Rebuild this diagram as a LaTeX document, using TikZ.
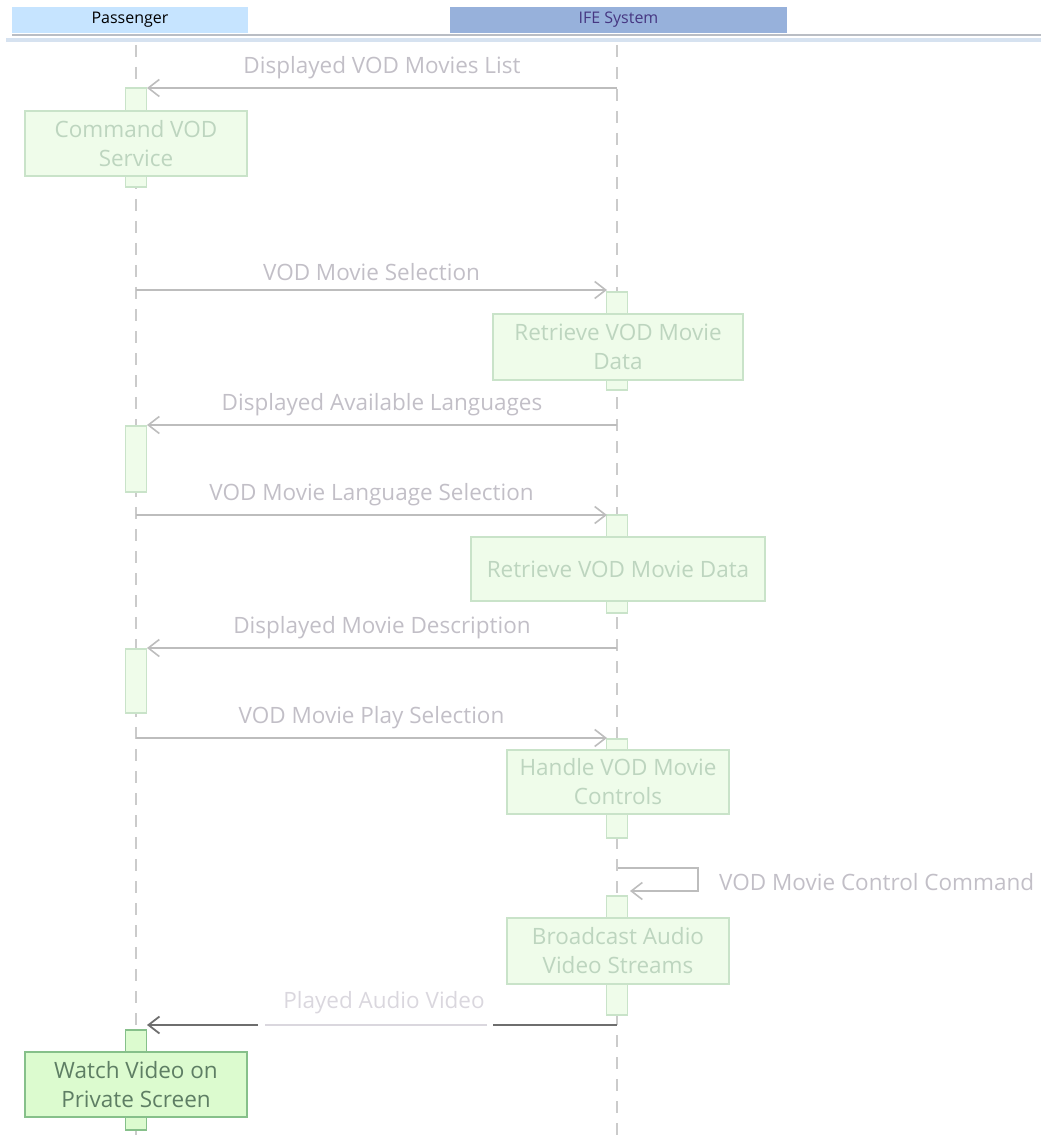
\documentclass[tikz,border=0pt]{standalone}
\usepackage{fontspec}
\setmainfont{Open Sans}
\usetikzlibrary{arrows.meta}
\definecolor{hdrP}{HTML}{C6E4FF}
\definecolor{hdrS}{HTML}{97B1DB}
\definecolor{hdrline}{HTML}{B9BDC4}
\definecolor{hdrband}{HTML}{D6E2F0}
\definecolor{lifec}{HTML}{CBCBCB}
\definecolor{msgc}{HTML}{BDBDBD}
\definecolor{msgtxt}{HTML}{C2BFC7}
\definecolor{msglight}{HTML}{DAD7DE}
\definecolor{msgdark}{HTML}{6E6E6E}
\definecolor{fadefill}{HTML}{EFFCEA}
\definecolor{fadedraw}{HTML}{C9E3C9}
\definecolor{fadetxt}{HTML}{BDD5BF}
\definecolor{actfill}{HTML}{DCFBCF}
\definecolor{actdraw}{HTML}{86C08A}
\definecolor{acttxt}{HTML}{5E7E64}
\tikzset{
  hdr/.style={inner sep=0pt, minimum height=26pt, font=\fontsize{16}{18}\selectfont},
  lifeline/.style={draw=lifec, line width=1.6pt, dash pattern=on 12pt off 10pt},
  actbar/.style={draw=fadedraw, fill=fadefill, line width=1.4pt, minimum width=21pt, inner sep=0pt},
  actbox/.style={draw=fadedraw, fill=fadefill, line width=1.4pt, inner sep=0pt, align=center,
    text=fadetxt, font=\fontsize{22.5}{29}\selectfont},
  actbarhi/.style={actbar, draw=actdraw, fill=actfill},
  actboxhi/.style={actbox, draw=actdraw, fill=actfill, text=acttxt},
  msg/.style={draw=msgc, line width=1.6pt, -{Straight Barb[length=11pt,width=17pt,line width=1.6pt]}},
  msglbl/.style={text=msgtxt, font=\fontsize{22.5}{26}\selectfont, inner sep=0pt},
}
\begin{document}
\begin{tikzpicture}[x=1pt,y=-1pt]
\useasboundingbox (0,0) rectangle (1041,1147);
% header
\draw[hdrband, line width=4pt] (6,40) -- (1041,40);
\draw[hdrline, line width=1.6pt] (12,35) -- (1041,35);
\node[hdr, fill=hdrP, minimum width=236pt] (p) at (130,20) {Passenger};
\node[hdr, fill=hdrS, minimum width=337pt, text={rgb,255:red,70;green,55;blue,130}] (s) at (618.5,20) {IFE System};
% lifelines
\coordinate (pTop) at (136,45);
\coordinate (pBot) at (136,1135);
\coordinate (sTop) at (617,45);
\coordinate (sBot) at (617,1135);
\draw[lifeline] (pTop) -- (pBot);
\draw[lifeline] (sTop) -- (sBot);

% activations and boxes
\node[actbar, minimum height=99pt] (a1) at (136,137.5) {};
\node[actbox, minimum width=222pt, minimum height=65pt] (b1) at (136,143.5) {Command VOD\\Service};

\node[actbar, minimum height=98pt] (a2) at (617,341) {};
\node[actbox, minimum width=250pt, minimum height=66pt] (b2) at (618,347) {Retrieve VOD Movie\\Data};

\node[actbar, minimum height=66pt] (a3) at (136,459) {};

\node[actbar, minimum height=98pt] (a4) at (617,564) {};
\node[actbox, minimum width=294pt, minimum height=64pt] (b4) at (618,569) {Retrieve VOD Movie Data};

\node[actbar, minimum height=64pt] (a5) at (136,681) {};

\node[actbar, minimum height=99pt] (a6) at (617,788.5) {};
\node[actbox, minimum width=222pt, minimum height=64pt] (b6) at (618,782) {Handle VOD Movie\\Controls};

\node[actbar, minimum height=119pt] (a7) at (617,955.5) {};
\node[actbox, minimum width=222pt, minimum height=66pt] (b7) at (618,951) {Broadcast Audio\\Video Streams};

\node[actbarhi, minimum height=100pt] (a8) at (136,1080) {};
\node[actboxhi, minimum width=222pt, minimum height=65pt] (b8) at (136,1084.5) {Watch Video on\\Private Screen};

% messages
\coordinate (m1s) at (617,88);
\coordinate (m1e) at (147,88);
\draw[msg] (m1s) -- node[msglbl, above=8pt] {Displayed VOD Movies List} (m1e);

\coordinate (m2s) at (136,290);
\coordinate (m2e) at (607,290);
\draw[msg] (m2s) -- node[msglbl, above=8pt] {VOD Movie Selection} (m2e);

\coordinate (m3s) at (617,425);
\coordinate (m3e) at (147,425);
\draw[msg] (m3s) -- node[msglbl, above=8pt] {Displayed Available Languages} (m3e);

\coordinate (m4s) at (136,515);
\coordinate (m4e) at (607,515);
\draw[msg] (m4s) -- node[msglbl, above=8pt] {VOD Movie Language Selection} (m4e);

\coordinate (m5s) at (617,648);
\coordinate (m5e) at (147,648);
\draw[msg] (m5s) -- node[msglbl, above=8pt] {Displayed Movie Description} (m5e);

\coordinate (m6s) at (136,738);
\coordinate (m6e) at (607,738);
\draw[msg] (m6s) -- node[msglbl, above=8pt] {VOD Movie Play Selection} (m6e);

% self message
\coordinate (m7s) at (618,868);
\coordinate (m7a) at (698,868);
\coordinate (m7b) at (698,891);
\coordinate (m7e) at (630,891);
\draw[msg] (m7s) -- (m7a) -- (m7b) -- (m7e);
\node[msglbl, anchor=west] (m7l) at (719,882) {VOD Movie Control Command};

% final highlighted message
\coordinate (m8s) at (617,1025);
\coordinate (m8g1) at (493,1025);
\coordinate (m8g2) at (487,1025);
\coordinate (m8g3) at (265,1025);
\coordinate (m8g4) at (258,1025);
\coordinate (m8e) at (147,1025);
\draw[msgdark, line width=1.8pt] (m8s) -- (m8g1);
\draw[msglight, line width=1.8pt] (m8g2) -- (m8g3);
\draw[msgdark, line width=1.8pt, -{Straight Barb[length=11pt,width=17pt,line width=1.8pt]}] (m8g4) -- (m8e);
\node[msglbl, text=msglight] (m8l) at (384,1003) {Played Audio Video};
\end{tikzpicture}
\end{document}
